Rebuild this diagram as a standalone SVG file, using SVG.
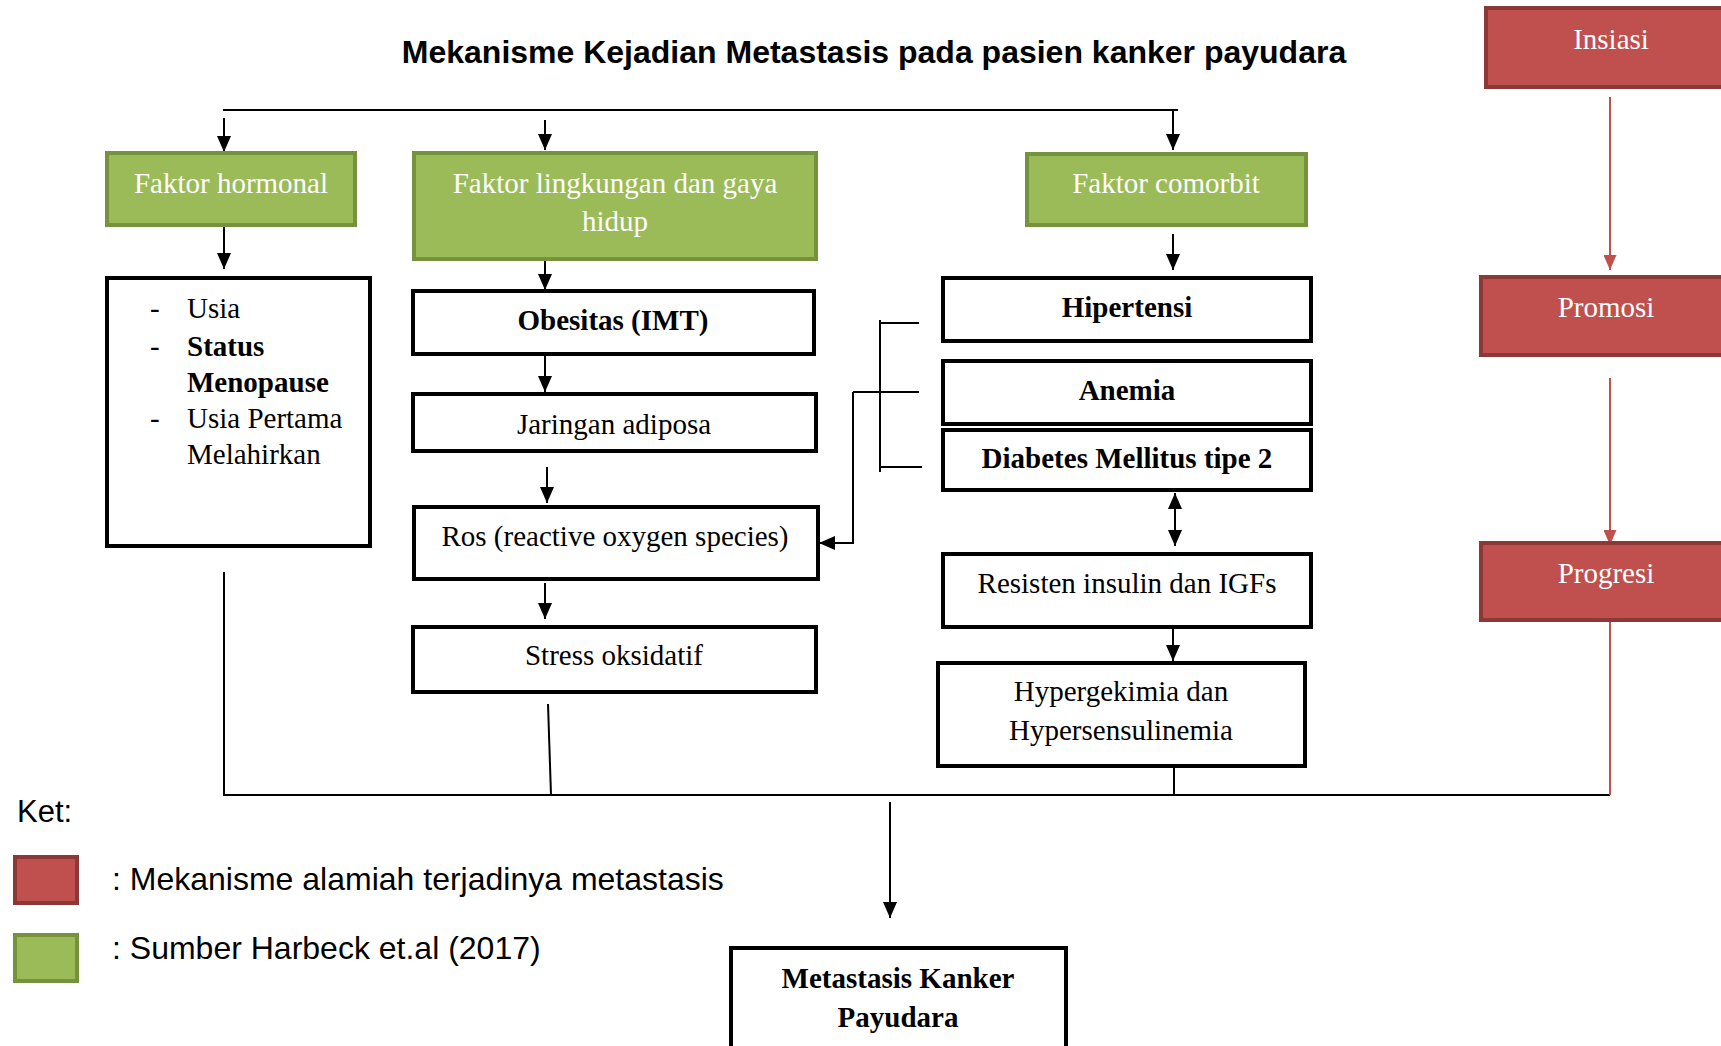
<svg xmlns="http://www.w3.org/2000/svg" width="1721" height="1046" viewBox="0 0 1721 1046">
<style>
.t{font-family:"Liberation Serif","Times New Roman",serif;font-size:29px;fill:#000}
.b{font-weight:bold}
.w{fill:#fff}
.s{font-family:"Liberation Sans",Arial,sans-serif}
.box{fill:#fff;stroke:#000;stroke-width:4}
.g{fill:#9BBB59;stroke:#76923C;stroke-width:4}
.r{fill:#C0504D;stroke:#8C3836;stroke-width:4}
.ln{stroke:#000;stroke-width:2;fill:none}
.rl{stroke:#C0504D;stroke-width:2;fill:none}
</style>
<defs>
<marker id="ah" viewBox="0 0 16 14" refX="16" refY="7" markerWidth="16" markerHeight="14" markerUnits="userSpaceOnUse" orient="auto-start-reverse"><path d="M0,0 L16,7 L0,14 z" fill="#000"/></marker>
<marker id="rh" viewBox="0 0 15 13" refX="15" refY="6.5" markerWidth="15" markerHeight="13" markerUnits="userSpaceOnUse" orient="auto"><path d="M0,0 L15,6.5 L0,13 z" fill="#C0504D"/></marker>
</defs>
<rect width="1721" height="1046" fill="#fff"/>
<text class="s b" x="874" y="63" font-size="32" text-anchor="middle">Mekanisme Kejadian Metastasis pada pasien kanker payudara</text>

<g id="connectors">
<path class="ln" d="M223,110 H1178"/>
<path class="ln" d="M224,118 V152" marker-end="url(#ah)"/>
<path class="ln" d="M545,120 V150" marker-end="url(#ah)"/>
<path class="ln" d="M1173,110 V150" marker-end="url(#ah)"/>
<path class="ln" d="M224,224 V269" marker-end="url(#ah)"/>
<path class="ln" d="M545,259 V290" marker-end="url(#ah)"/>
<path class="ln" d="M545,355 V392" marker-end="url(#ah)"/>
<path class="ln" d="M547,467 V503" marker-end="url(#ah)"/>
<path class="ln" d="M545,583 V619" marker-end="url(#ah)"/>
<path class="ln" d="M1173,234 V270" marker-end="url(#ah)"/>
<path class="ln" d="M880,320 V472 M880,323 H919 M853,392 H919 M880,467 H922"/>
<path class="ln" d="M853,392 V543 H819" marker-end="url(#ah)"/>
<path class="ln" d="M1175,493 V546" marker-start="url(#ah)" marker-end="url(#ah)"/>
<path class="ln" d="M1173,628 V661" marker-end="url(#ah)"/>
<path class="ln" d="M1174,767 V795"/>
<path class="ln" d="M548,704 L551,795"/>
<path class="ln" d="M224,572 V795 H1610"/>
<path class="rl" d="M1610,621 V795"/>
<path class="rl" d="M1610,97 V270" marker-end="url(#rh)"/>
<path class="rl" d="M1610,378 V545" marker-end="url(#rh)"/>
<path class="ln" d="M890,802 V918" marker-end="url(#ah)"/>
</g>

<g id="faktor-hormonal"><rect class="g" x="107" y="153" width="248" height="72"/><text class="t w" x="231" y="193" text-anchor="middle">Faktor hormonal</text></g>
<g id="faktor-lingkungan"><rect class="g" x="414" y="153" width="402" height="106"/><text class="t w" x="615" y="193" text-anchor="middle">Faktor lingkungan dan gaya</text><text class="t w" x="615" y="231" text-anchor="middle">hidup</text></g>
<g id="faktor-comorbit"><rect class="g" x="1027" y="154" width="279" height="71"/><text class="t w" x="1166" y="193" text-anchor="middle">Faktor comorbit</text></g>

<g id="insiasi"><rect class="r" x="1486" y="8" width="260" height="79"/><text class="t w" x="1611" y="49" text-anchor="middle">Insiasi</text></g>
<g id="promosi"><rect class="r" x="1481" y="277" width="260" height="78"/><text class="t w" x="1606" y="317" text-anchor="middle">Promosi</text></g>
<g id="progresi"><rect class="r" x="1481" y="543" width="260" height="77"/><text class="t w" x="1606" y="583" text-anchor="middle">Progresi</text></g>

<g id="hormonal-list"><rect class="box" x="107" y="278" width="263" height="268"/>
<text class="t" x="150" y="318">-</text><text class="t" x="187" y="318">Usia</text>
<text class="t" x="150" y="356">-</text><text class="t b" x="187" y="356">Status</text>
<text class="t b" x="187" y="392">Menopause</text>
<text class="t" x="150" y="428">-</text><text class="t" x="187" y="428">Usia Pertama</text>
<text class="t" x="187" y="464">Melahirkan</text></g>

<g id="obesitas"><rect class="box" x="413" y="291" width="401" height="63"/><text class="t b" x="613" y="330" text-anchor="middle">Obesitas (IMT)</text></g>
<g id="jaringan"><rect class="box" x="413" y="394" width="403" height="57"/><text class="t" x="614" y="434" text-anchor="middle">Jaringan adiposa</text></g>
<g id="ros"><rect class="box" x="414" y="507" width="404" height="72"/><text class="t" x="615" y="546" text-anchor="middle">Ros (reactive oxygen species)</text></g>
<g id="stress"><rect class="box" x="413" y="627" width="403" height="65"/><text class="t" x="614" y="665" text-anchor="middle">Stress oksidatif</text></g>

<g id="hipertensi"><rect class="box" x="943" y="278" width="368" height="63"/><text class="t b" x="1127" y="317" text-anchor="middle">Hipertensi</text></g>
<g id="anemia"><rect class="box" x="943" y="361" width="368" height="63"/><text class="t b" x="1127" y="400" text-anchor="middle">Anemia</text></g>
<g id="diabetes"><rect class="box" x="943" y="430" width="368" height="60"/><text class="t b" x="1127" y="468" text-anchor="middle">Diabetes Mellitus tipe 2</text></g>
<g id="resisten"><rect class="box" x="943" y="554" width="368" height="73"/><text class="t" x="1127" y="593" text-anchor="middle">Resisten insulin dan IGFs</text></g>
<g id="hypergekimia"><rect class="box" x="938" y="663" width="367" height="103"/><text class="t" x="1121" y="701" text-anchor="middle">Hypergekimia dan</text><text class="t" x="1121" y="740" text-anchor="middle">Hypersensulinemia</text></g>

<g id="metastasis"><rect class="box" x="731" y="948" width="335" height="120"/><text class="t b" x="898" y="988" text-anchor="middle">Metastasis Kanker</text><text class="t b" x="898" y="1027" text-anchor="middle">Payudara</text></g>

<g id="legend">
<text class="s" x="17" y="822" font-size="31">Ket:</text>
<rect class="r" x="15" y="857" width="62" height="46"/>
<text class="s" x="112" y="890" font-size="32">: Mekanisme alamiah terjadinya metastasis</text>
<rect class="g" x="15" y="935" width="62" height="46"/>
<text class="s" x="112" y="959" font-size="32">: Sumber Harbeck et.al (2017)</text>
</g>
</svg>
